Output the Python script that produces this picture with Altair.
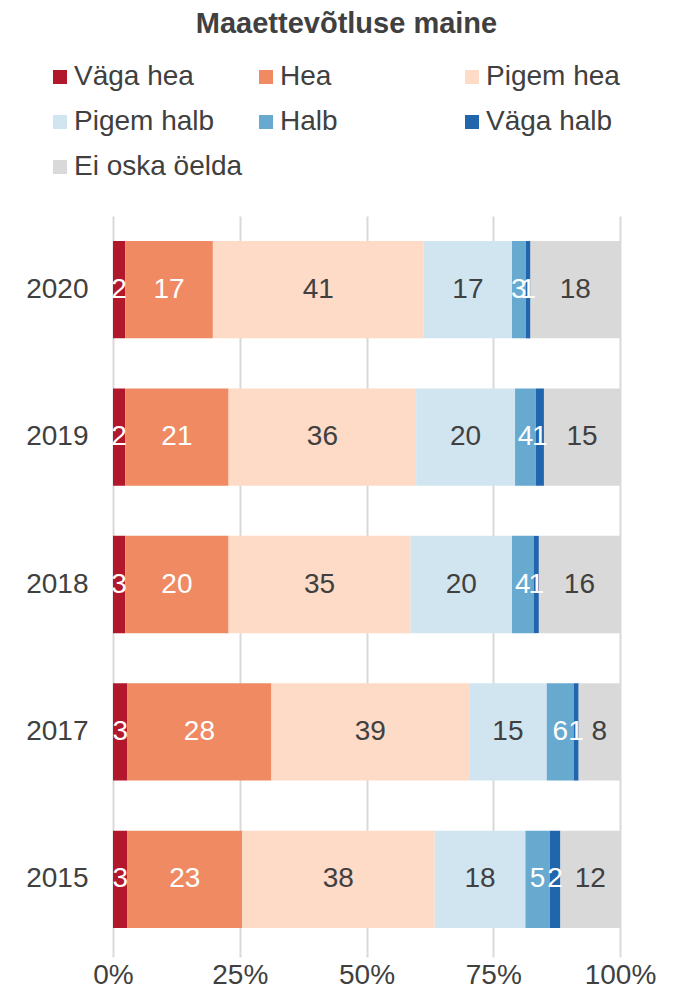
import altair as alt
import pandas as pd

years = ["2020", "2019", "2018", "2017", "2015"]
categories = ["Väga hea", "Hea", "Pigem hea", "Pigem halb", "Halb", "Väga halb", "Ei oska öelda"]
colors = ["#b2182b", "#ef8a62", "#fddbc7", "#d1e5f0", "#67a9cf", "#2166ac", "#d9d9d9"]
label_colors = ["white", "white", "#404040", "#404040", "white", "white", "#404040"]

# shares (%)
shares_2020 = [2.4, 17.3, 41.6, 17.4, 2.7, 0.95, 17.65]
shares_2019 = [2.4, 20.4, 37.0, 19.5, 4.1, 1.6, 15.0]
shares_2018 = [2.4, 20.4, 35.9, 20.0, 4.25, 1.05, 16.0]
shares_2017 = [2.85, 28.4, 39.0, 15.3, 5.3, 1.0, 8.15]
shares_2015 = [2.85, 22.6, 38.0, 17.9, 4.8, 2.1, 11.75]

# data labels as printed
labels_2020 = ["2", "17", "41", "17", "3", "1", "18"]
labels_2019 = ["2", "21", "36", "20", "4", "1", "15"]
labels_2018 = ["3", "20", "35", "20", "4", "1", "16"]
labels_2017 = ["3", "28", "39", "15", "6", "1", "8"]
labels_2015 = ["3", "23", "38", "18", "5", "2", "12"]

shares = [shares_2020, shares_2019, shares_2018, shares_2017, shares_2015]
labels = [labels_2020, labels_2019, labels_2018, labels_2017, labels_2015]

rows = []
for y, sv, lv in zip(years, shares, labels):
    for i, (c, s, l) in enumerate(zip(categories, sv, lv)):
        rows.append({"year": y, "cat": c, "share": s, "label": l,
                     "order": i, "lc": label_colors[i]})
df = pd.DataFrame(rows)

FONT = "Liberation Sans"
TXT = "#404040"
FS = 28

base = alt.Chart(df).transform_stack(
    stack="share", groupby=["year"], sort=[alt.SortField("order")], as_=["x0", "x1"]
).transform_calculate(mid="(datum.x0 + datum.x1) / 2")

yenc = alt.Y("year:N", sort=years, title=None,
             scale=alt.Scale(paddingInner=0.34, paddingOuter=0.17),
             axis=alt.Axis(ticks=False, domain=False, labelPadding=25,
                           labelFontSize=FS, labelColor=TXT, labelFont=FONT))

bars = base.mark_bar().encode(
    x=alt.X("x0:Q", scale=alt.Scale(domain=[0, 100], nice=False), title=None,
            axis=alt.Axis(values=[0, 25, 50, 75, 100], labelExpr="datum.value + '%'",
                          grid=True, gridColor="#d9d9d9", gridWidth=2,
                          domain=False, ticks=True, tickColor="#d9d9d9", tickWidth=2,
                          tickSize=4, labelPadding=4, labelFontSize=FS,
                          labelFlush=False, labelAlign="center",
                          labelColor=TXT, labelFont=FONT)),
    x2="x1:Q",
    y=yenc,
    color=alt.Color("cat:N", scale=alt.Scale(domain=categories, range=colors),
                    legend=alt.Legend(title=None, orient="none", legendX=-67, legendY=-153,
                                      direction="horizontal", columns=3, gridAlign="all",
                                      columnPadding=9, rowPadding=17,
                                      symbolType="square", symbolSize=196,
                                      symbolStrokeWidth=0, labelOffset=0,
                                      labelFontSize=FS, labelColor=TXT, labelFont=FONT,
                                      labelLimit=300)),
)

text = base.mark_text(fontSize=FS, font=FONT).encode(
    x=alt.X("mid:Q"),
    y=alt.Y("year:N", sort=years),
    text="label:N",
    color=alt.Color("lc:N", scale=None),
)

chart = (bars + text).properties(
    width=507, height=737,
    title=alt.TitleParams("Maaettevõtluse maine", fontSize=29, fontWeight="bold",
                          color=TXT, font=FONT, offset=24, dx=-20),
    padding={"left": 17, "top": 2, "right": 5, "bottom": 0},
).configure_view(stroke=None)

chart.save("out.html", embed_options={"renderer": "svg", "actions": False})
